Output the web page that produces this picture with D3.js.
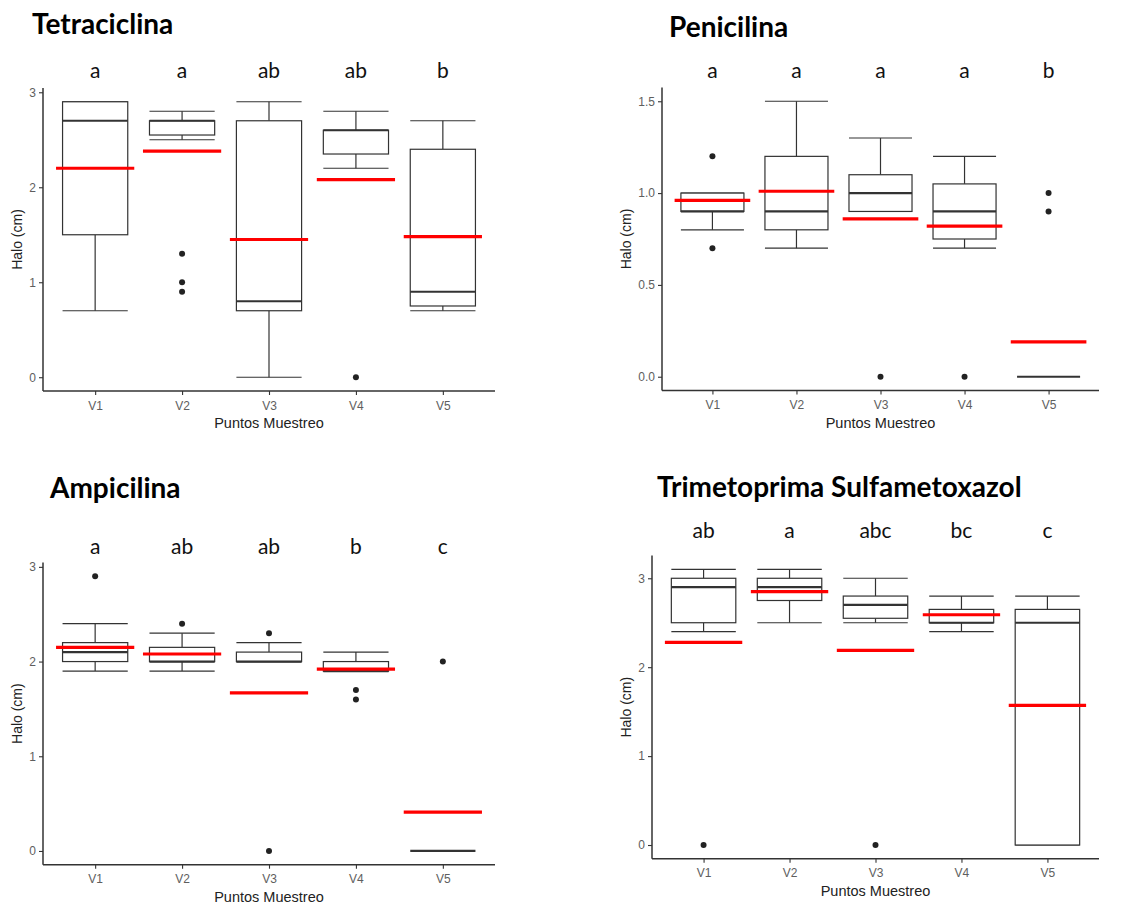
<!DOCTYPE html>
<html>
<head>
<meta charset="utf-8">
<script src="https://cdn.jsdelivr.net/npm/d3@7"></script>
<style>
  body { margin: 0; background: #fff; }
  svg { display: block; }
</style>
</head>
<body>
<svg id="chart" width="1137" height="907"></svg>
<script>
const points = ["V1", "V2", "V3", "V4", "V5"];

// cada caja: [bigote inf, Q1, mediana, Q3, bigote sup]
const tetraBoxes = [[0.7, 1.5, 2.7, 2.9, 2.9], [2.5, 2.55, 2.7, 2.7, 2.8], [0, 0.7, 0.8, 2.7, 2.9], [2.2, 2.35, 2.6, 2.6, 2.8], [0.7, 0.75, 0.9, 2.4, 2.7]];
const tetraOutliers = [[], [1.3, 1.0, 0.9], [], [0], []];
const tetraMeans = [2.2, 2.38, 1.45, 2.08, 1.48];
const tetraLetters = ["a", "a", "ab", "ab", "b"];
const tetraTicks = [0, 1, 2, 3];

const peniBoxes = [[0.8, 0.9, 0.9, 1.0, 1.0], [0.7, 0.8, 0.9, 1.2, 1.5], [0.9, 0.9, 1.0, 1.1, 1.3], [0.7, 0.75, 0.9, 1.05, 1.2], [0, 0, 0, 0, 0]];
const peniOutliers = [[1.2, 0.7], [], [0], [0], [1.0, 0.9]];
const peniMeans = [0.96, 1.01, 0.86, 0.82, 0.19];
const peniLetters = ["a", "a", "a", "a", "b"];
const peniTicks = [0, 0.5, 1.0, 1.5];

const ampiBoxes = [[1.9, 2.0, 2.1, 2.2, 2.4], [1.9, 2.0, 2.0, 2.15, 2.3], [2.0, 2.0, 2.0, 2.1, 2.2], [1.9, 1.9, 1.9, 2.0, 2.1], [0, 0, 0, 0, 0]];
const ampiOutliers = [[2.9], [2.4], [2.3, 0], [1.7, 1.6], [2.0]];
const ampiMeans = [2.15, 2.08, 1.67, 1.92, 0.41];
const ampiLetters = ["a", "ab", "ab", "b", "c"];
const ampiTicks = [0, 1, 2, 3];

const trimBoxes = [[2.4, 2.5, 2.9, 3.0, 3.1], [2.5, 2.75, 2.9, 3.0, 3.1], [2.5, 2.55, 2.7, 2.8, 3.0], [2.4, 2.5, 2.5, 2.65, 2.8], [0, 0, 2.5, 2.65, 2.8]];
const trimOutliers = [[0], [], [0], [], []];
const trimMeans = [2.28, 2.85, 2.19, 2.59, 1.57];
const trimLetters = ["ab", "a", "abc", "bc", "c"];
const trimTicks = [0, 1, 2, 3];

const panels = [
  { title: "Tetraciclina", boxes: tetraBoxes, outliers: tetraOutliers, means: tetraMeans, letters: tetraLetters, ticks: tetraTicks, fmt: d3.format("d"),
    frame: { left: 43, right: 495, top: 88, bottom: 391 }, titleAt: [32, 34], letterY: 78, ylabX: 18 },
  { title: "Penicilina", boxes: peniBoxes, outliers: peniOutliers, means: peniMeans, letters: peniLetters, ticks: peniTicks, fmt: d3.format(".1f"),
    frame: { left: 662, right: 1099, top: 87.5, bottom: 390.5 }, titleAt: [669, 37], letterY: 78, ylabX: 627 },
  { title: "Ampicilina", boxes: ampiBoxes, outliers: ampiOutliers, means: ampiMeans, letters: ampiLetters, ticks: ampiTicks, fmt: d3.format("d"),
    frame: { left: 43, right: 495, top: 562.6, bottom: 864.7 }, titleAt: [50, 498], letterY: 554, ylabX: 18 },
  { title: "Trimetoprima Sulfametoxazol", boxes: trimBoxes, outliers: trimOutliers, means: trimMeans, letters: trimLetters, ticks: trimTicks, fmt: d3.format("d"),
    frame: { left: 652, right: 1099, top: 555.6, bottom: 858.8 }, titleAt: [657, 497], letterY: 538, ylabX: 627 },
];

const svg = d3.select("#chart");
const ink = "#333333";
const sans = "Arial, 'Liberation Sans', sans-serif";
const calibriLike = "Lato, 'Open Sans', sans-serif";

panels.forEach((p) => {
  const g = svg.append("g");
  const f = p.frame;
  const all = p.boxes.flat().concat(p.outliers.flat());
  const lo = d3.min(all), hi = d3.max(all);
  const pad = (hi - lo) * 0.05;

  const x = d3.scalePoint().domain(points).range([f.left, f.right]).padding(0.6);
  const y = d3.scaleLinear().domain([lo - pad, hi + pad]).range([f.bottom, f.top]);
  const step = x.step();
  const bw = step * 0.75;
  const mw = step * 0.9;

  const rows = points.map((k, i) => ({ k, b: p.boxes[i], out: p.outliers[i], mean: p.means[i], letter: p.letters[i] }));

  // ejes
  const yAxis = g.append("g").attr("transform", `translate(${f.left},0)`)
    .call(d3.axisLeft(y).tickValues(p.ticks).tickFormat(p.fmt).tickSize(4).tickPadding(3));
  const xAxis = g.append("g").attr("transform", `translate(0,${f.bottom})`)
    .call(d3.axisBottom(x).tickSize(4).tickPadding(6));
  [yAxis, xAxis].forEach((a) => {
    a.attr("font-family", sans).attr("font-size", 12);
    a.select(".domain").attr("stroke", ink).attr("stroke-width", 1.5);
    a.selectAll(".tick line").attr("stroke", ink).attr("stroke-width", 1.1);
    a.selectAll(".tick text").attr("fill", "#5e5e5e");
  });
  xAxis.select(".domain").attr("d", `M${f.left},0H${f.right}`);
  yAxis.select(".domain").attr("d", `M0,${f.top}V${f.bottom}`);

  const box = g.selectAll("g.box").data(rows).join("g").attr("class", "box");

  // bigotes con topes
  box.append("line")
    .attr("x1", (d) => x(d.k)).attr("x2", (d) => x(d.k))
    .attr("y1", (d) => y(d.b[3])).attr("y2", (d) => y(d.b[4]))
    .attr("stroke", ink).attr("stroke-width", 1.2);
  box.append("line")
    .attr("x1", (d) => x(d.k)).attr("x2", (d) => x(d.k))
    .attr("y1", (d) => y(d.b[0])).attr("y2", (d) => y(d.b[1]))
    .attr("stroke", ink).attr("stroke-width", 1.2);
  [0, 4].forEach((j) => {
    box.filter((d) => d.b[4] > d.b[0]).append("line")
      .attr("x1", (d) => x(d.k) - bw / 2).attr("x2", (d) => x(d.k) + bw / 2)
      .attr("y1", (d) => y(d.b[j])).attr("y2", (d) => y(d.b[j]))
      .attr("stroke", ink).attr("stroke-width", 1.2);
  });

  box.append("rect")
    .attr("x", (d) => x(d.k) - bw / 2).attr("width", bw)
    .attr("y", (d) => y(d.b[3])).attr("height", (d) => y(d.b[1]) - y(d.b[3]))
    .attr("fill", "#fff").attr("stroke", ink).attr("stroke-width", 1.2);

  box.append("line")
    .attr("x1", (d) => x(d.k) - bw / 2).attr("x2", (d) => x(d.k) + bw / 2)
    .attr("y1", (d) => y(d.b[2])).attr("y2", (d) => y(d.b[2]))
    .attr("stroke", ink).attr("stroke-width", 2.2);

  box.selectAll("circle").data((d) => d.out.map((v) => ({ k: d.k, v }))).join("circle")
    .attr("cx", (d) => x(d.k)).attr("cy", (d) => y(d.v)).attr("r", 3)
    .attr("fill", "#222");

  // media
  box.append("line")
    .attr("x1", (d) => x(d.k) - mw / 2).attr("x2", (d) => x(d.k) + mw / 2)
    .attr("y1", (d) => y(d.mean)).attr("y2", (d) => y(d.mean))
    .attr("stroke", "#ff0000").attr("stroke-width", 3.2);

  // letras de significancia
  g.selectAll("text.letter").data(rows).join("text")
    .attr("class", "letter")
    .attr("x", (d) => x(d.k)).attr("y", p.letterY)
    .attr("text-anchor", "middle")
    .attr("font-family", calibriLike).attr("font-size", 21)
    .attr("fill", "#111")
    .text((d) => d.letter);

  g.append("text")
    .attr("x", p.titleAt[0]).attr("y", p.titleAt[1])
    .attr("font-family", calibriLike).attr("font-size", 28).attr("font-weight", "bold")
    .attr("fill", "#000")
    .text(p.title);

  g.append("text")
    .attr("transform", `translate(${p.ylabX},${(f.top + f.bottom) / 2}) rotate(-90)`)
    .attr("text-anchor", "middle").attr("dominant-baseline", "middle")
    .attr("font-family", sans).attr("font-size", 14)
    .attr("fill", "#222")
    .text("Halo (cm)");

  g.append("text")
    .attr("x", (f.left + f.right) / 2).attr("y", f.bottom + 37)
    .attr("text-anchor", "middle")
    .attr("font-family", sans).attr("font-size", 14.5)
    .attr("fill", "#222")
    .text("Puntos Muestreo");
});
</script>
</body>
</html>
